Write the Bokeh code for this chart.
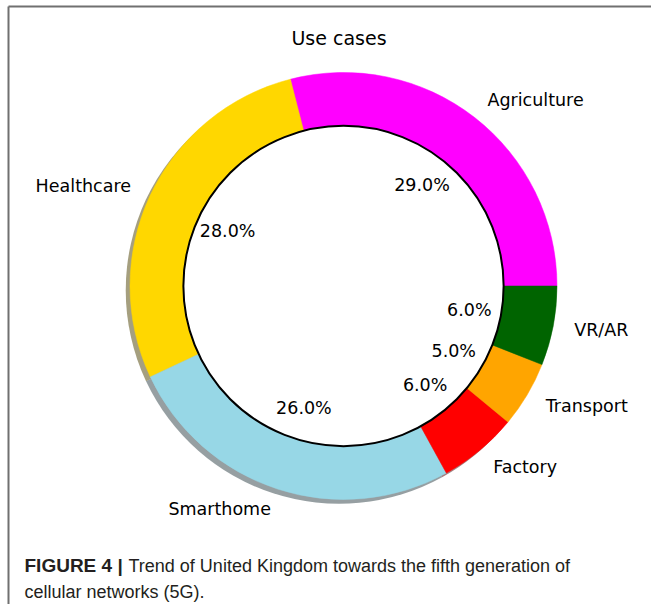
import numpy as np
from bokeh.plotting import figure
from bokeh.models import Range1d
from bokeh.core.properties import value
from bokeh.embed import file_html
from bokeh.resources import INLINE

# ---- data ----
categories = ["Agriculture", "Healthcare", "Smarthome", "Factory", "Transport", "VR/AR"]
shares = [29.0, 28.0, 26.0, 6.0, 5.0, 6.0]
colors = ["#ff00ff", "#ffd700", "#97d7e6", "#ff0000", "#ffa500", "#006400"]
title_text = "Use cases"
caption_bold = "FIGURE 4 |"
caption_line1 = "Trend of United Kingdom towards the fifth generation of"
caption_line2 = "cellular networks (5G)."

# ---- layout (canvas pixels) ----
W, H = 651, 604
CX, CY = 343.0, 285.5
R = 213.5


def px(xc):
    return (xc - CX) / R


def py(yc):
    return (CY - yc) / R


p = figure(width=W, height=H, output_backend="svg", toolbar_location=None,
           x_range=Range1d(px(0), px(W)), y_range=Range1d(py(H), py(0)),
           min_border=0)
p.axis.visible = False
p.grid.visible = False
p.outline_line_color = None
p.background_fill_color = "white"
p.border_fill_color = "white"

vals = np.array(shares, dtype=float)
fr = vals / vals.sum()
cum = np.concatenate([[0.0], np.cumsum(fr)])
start = 2 * np.pi * cum[:-1]
end = 2 * np.pi * cum[1:]
mid = (start + end) / 2


def shade(c):
    c = c.lstrip("#")
    r, g, b = (int(c[i:i + 2], 16) for i in (0, 2, 4))
    return "#%02x%02x%02x" % (int(r * 0.3), int(g * 0.3), int(b * 0.3))


shadow_colors = [shade(c) for c in colors]

# shadows
p.wedge(x=-0.02, y=-0.02, radius=1.0, start_angle=list(start), end_angle=list(end),
        fill_color=shadow_colors, fill_alpha=0.5, line_color=None)
# wedges
p.wedge(x=0, y=0, radius=1.0, start_angle=list(start), end_angle=list(end),
        fill_color=colors, line_color=colors, line_width=0.5)
# center hole
p.circle(x=[0], y=[0], radius=0.75, fill_color="white", line_color="black", line_width=2)

font = value("DejaVu Sans")
lx = 1.1 * np.cos(mid)
ly = 1.1 * np.sin(mid)
right_idx = [i for i in range(len(categories)) if lx[i] > 0]
left_idx = [i for i in range(len(categories)) if lx[i] <= 0]
p.text(x=[lx[i] for i in right_idx], y=[ly[i] for i in right_idx],
       text=[categories[i] for i in right_idx], text_font=font, text_font_size="17.5px",
       text_align="left", text_baseline="middle", text_color="black")
p.text(x=[lx[i] for i in left_idx], y=[ly[i] for i in left_idx],
       text=[categories[i] for i in left_idx], text_font=font, text_font_size="17.5px",
       text_align="right", text_baseline="middle", text_color="black")

pct_labels = ["%.1f%%" % v for v in (fr * 100)]
p.text(x=list(0.6 * np.cos(mid)), y=list(0.6 * np.sin(mid)), text=pct_labels,
       text_font=font, text_font_size="17.5px", text_align="center",
       text_baseline="middle", text_color="black")

# title
p.text(x=[px(338.5)], y=[py(37.3)], text=[title_text], text_font=font,
       text_font_size="19px", text_align="center", text_baseline="alphabetic",
       text_color="black")

# caption
cfont = value("Liberation Sans")
p.text(x=[px(24)], y=[py(565)], text=[caption_bold], text_font=cfont,
       text_font_size="19px", text_font_style="bold", text_align="left",
       text_baseline="alphabetic", text_color="#231f20")
p.text(x=[px(128)], y=[py(565)], text=[caption_line1], text_font=cfont,
       text_font_size="18px", text_align="left", text_baseline="alphabetic",
       text_color="#231f20")
p.text(x=[px(24)], y=[py(591)], text=[caption_line2], text_font=cfont,
       text_font_size="18px", text_align="left", text_baseline="alphabetic",
       text_color="#231f20")

# frame lines (top and left)
p.segment(x0=[px(8), px(8)], y0=[py(6), py(6)], x1=[px(W), px(8)], y1=[py(6), py(H)],
          line_color="#707070", line_width=2)

open("out.html", "w").write(file_html(p, INLINE))
